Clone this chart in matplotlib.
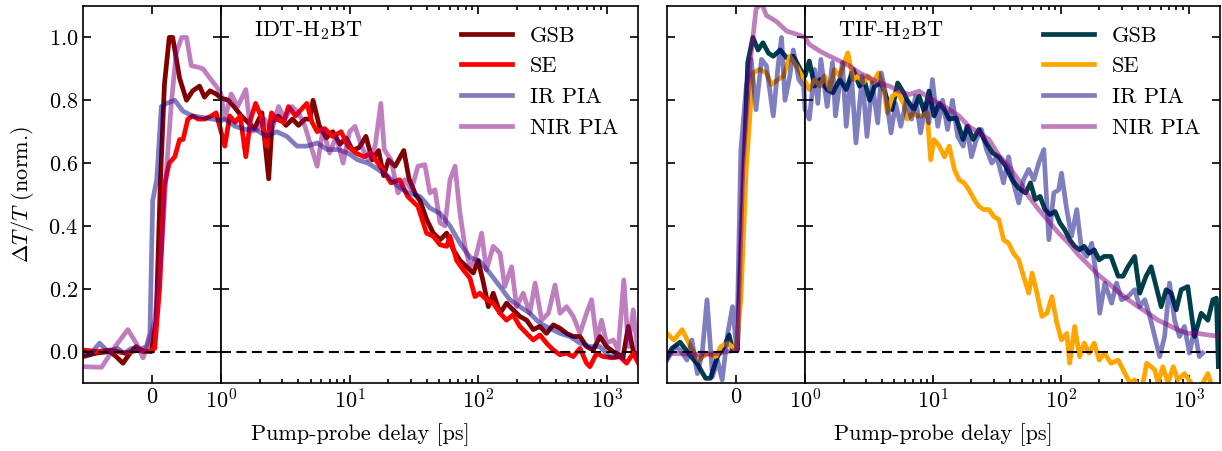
import numpy as np
import matplotlib
matplotlib.use('Agg')
import matplotlib.pyplot as plt

plt.rcParams['font.family'] = 'cmr10'
plt.rcParams['mathtext.fontset'] = 'cm'
plt.rcParams['axes.formatter.use_mathtext'] = True
plt.rcParams['font.size'] = 16
plt.rcParams['axes.linewidth'] = 1.2

#%% Transient traces (delay [ps], normalised dT/T)

# IDT-H2BT
idt_gsb = [(-1.0, -0.016), (-0.81, -0.005), (-0.61, 0.0), (-0.52, -0.016), (-0.42, -0.037),
           (-0.32, -0.005), (-0.23, 0.016), (-0.13, 0.0), (-0.01, 0.0), (0.06, 0.10), (0.12, 0.53),
           (0.18, 0.85), (0.25, 1.0), (0.30, 1.0), (0.40, 0.87), (0.50, 0.80), (0.59, 0.83),
           (0.69, 0.845), (0.76, 0.81), (0.84, 0.83), (0.93, 0.82), (1.0, 0.807), (1.14, 0.80),
           (1.29, 0.775), (1.44, 0.75), (1.62, 0.73), (1.82, 0.71), (2.08, 0.76), (2.35, 0.55),
           (2.5, 0.73), (2.8, 0.75), (3.2, 0.72), (3.6, 0.74), (4.0, 0.72), (4.5, 0.74), (4.9, 0.74),
           (5.2, 0.80), (5.8, 0.72), (6.6, 0.68), (7.4, 0.70), (8.4, 0.66), (9.4, 0.68), (10.6, 0.64),
           (11.9, 0.65), (13.4, 0.685), (15.0, 0.61), (16.8, 0.64), (18.4, 0.56), (20.1, 0.61),
           (22.6, 0.59), (26.4, 0.64), (29.0, 0.55), (32.6, 0.50), (35.3, 0.48), (39.8, 0.42),
           (44.8, 0.377), (50.5, 0.356), (56.9, 0.377), (64.1, 0.324), (72.2, 0.29), (81.3, 0.27),
           (91.6, 0.25), (100, 0.29), (110, 0.218), (120, 0.143), (131, 0.186), (148, 0.122),
           (166, 0.154), (187, 0.133), (211, 0.112), (238, 0.10), (268, 0.07), (302, 0.08),
           (340, 0.058), (384, 0.085), (433, 0.074), (487, 0.058), (549, 0.048), (619, 0.048),
           (697, 0.016), (785, 0.005), (885, 0.048), (997, 0.016), (1120, 0.0), (1340, -0.016),
           (1470, 0.08), (1610, 0.0), (1760, -0.02)]

idt_se = [(-1.0, 0.005), (-0.8, 0.0), (-0.6, 0.005), (-0.4, -0.005), (-0.2, 0.005), (-0.05, 0.0),
          (0.04, 0.01), (0.11, 0.2), (0.18, 0.53), (0.25, 0.6), (0.33, 0.62), (0.40, 0.675),
          (0.45, 0.675), (0.52, 0.74), (0.59, 0.75), (0.67, 0.74), (0.76, 0.74), (0.86, 0.75),
          (0.93, 0.76), (1.0, 0.70), (1.07, 0.654), (1.17, 0.75), (1.29, 0.73), (1.41, 0.75),
          (1.56, 0.62), (1.70, 0.74), (1.86, 0.79), (2.04, 0.75), (2.25, 0.654), (2.47, 0.76),
          (2.71, 0.74), (3.07, 0.73), (3.35, 0.78), (3.8, 0.75), (4.2, 0.77), (4.65, 0.79),
          (5.1, 0.73), (5.6, 0.70), (6.4, 0.71), (7.4, 0.685), (8.6, 0.70), (9.7, 0.654),
          (11.2, 0.632), (13.0, 0.62), (14.7, 0.632), (16.6, 0.60), (18.6, 0.57), (21.0, 0.537),
          (24.5, 0.547), (28.3, 0.494), (34.0, 0.462), (39.7, 0.377), (44.8, 0.367), (50.5, 0.34),
          (56.9, 0.335), (60.4, 0.367), (68, 0.29), (76.6, 0.26), (86.3, 0.234), (94.4, 0.175),
          (103, 0.186), (116, 0.165), (131, 0.154), (148, 0.122), (166, 0.10), (187, 0.117),
          (211, 0.08), (238, 0.058), (268, 0.037), (302, 0.053), (340, 0.027), (384, 0.005),
          (433, -0.01), (487, -0.005), (549, -0.016), (619, 0.01), (697, -0.037), (740, -0.048),
          (834, -0.005), (940, -0.016), (1120, -0.02), (1265, -0.016), (1426, -0.037),
          (1607, -0.005), (1760, -0.037)]

idt_ir = [(-1.0, 0.0), (-0.9, -0.01), (-0.76, 0.027), (-0.64, 0.0), (-0.5, 0.01), (-0.4, -0.005),
          (-0.3, 0.01), (-0.2, 0.005), (-0.08, 0.016), (-0.03, 0.06), (0.01, 0.48), (0.07, 0.55),
          (0.135, 0.78), (0.21, 0.79), (0.33, 0.80), (0.45, 0.765), (0.59, 0.75), (0.74, 0.745),
          (0.88, 0.74), (1.0, 0.735), (1.07, 0.74), (1.29, 0.717), (1.56, 0.707), (1.86, 0.707),
          (2.25, 0.685), (2.71, 0.70), (3.25, 0.685), (3.9, 0.654), (4.65, 0.654), (5.6, 0.664),
          (6.7, 0.643), (8.1, 0.643), (9.7, 0.632), (11.6, 0.61), (13.9, 0.60), (16.6, 0.58),
          (19.9, 0.558), (23.8, 0.526), (28.5, 0.505), (35.3, 0.494), (42.2, 0.457), (50.5, 0.44),
          (60.4, 0.40), (72.2, 0.345), (86.3, 0.30), (103, 0.287), (123, 0.25), (148, 0.207),
          (176, 0.165), (211, 0.143), (252, 0.122), (302, 0.09), (361, 0.074), (433, 0.058),
          (517, 0.048), (619, 0.027), (740, 0.016), (885, 0.016), (1058, -0.016), (1265, -0.016),
          (1343, -0.02)]

idt_nir = [(-1.0, -0.048), (-0.73, -0.05), (-0.57, 0.005), (-0.35, 0.07), (-0.23, 0.027),
           (-0.13, -0.02), (-0.03, 0.04), (0.04, 0.1), (0.135, 0.31), (0.21, 0.58), (0.28, 0.79),
           (0.35, 0.95), (0.43, 1.0), (0.5, 1.0), (0.57, 0.91), (0.67, 0.905), (0.74, 0.9),
           (0.84, 0.87), (0.93, 0.845), (1.0, 0.82), (1.07, 0.74), (1.2, 0.82), (1.35, 0.78),
           (1.56, 0.834), (1.70, 0.70), (1.92, 0.707), (2.18, 0.74), (2.47, 0.70), (2.8, 0.78),
           (3.15, 0.74), (3.55, 0.78), (4.0, 0.76), (4.5, 0.717), (5.1, 0.643), (5.6, 0.59),
           (6.2, 0.707), (7.0, 0.632), (7.9, 0.685), (8.9, 0.60), (10.0, 0.70), (11.0, 0.717),
           (12.4, 0.654), (14.0, 0.61), (15.8, 0.654), (17.5, 0.79), (18.6, 0.643), (21, 0.61),
           (23.8, 0.505), (26.8, 0.547), (30.3, 0.515), (34, 0.59), (38.5, 0.595), (42.2, 0.505),
           (46.1, 0.515), (50.5, 0.41), (55.2, 0.40), (60.4, 0.547), (66.1, 0.59), (72.2, 0.44),
           (78.9, 0.335), (86.3, 0.27), (94.4, 0.29), (106.4, 0.377), (116, 0.26), (131, 0.335),
           (148, 0.313), (161, 0.207), (182, 0.27), (199, 0.143), (224, 0.186), (252, 0.122),
           (277, 0.218), (312, 0.10), (352, 0.122), (396, 0.212), (433, 0.122), (487, 0.143),
           (549, 0.112), (619, 0.058), (697, 0.122), (762, 0.165), (834, 0.037), (912, 0.10),
           (997, 0.027), (1123, 0.037), (1227, 0.005), (1358, 0.228), (1469, 0.016), (1607, 0.133),
           (1760, -0.02)]

# TIF-H2BT
tif_gsb = [(-1.0, -0.02), (-0.93, 0.01), (-0.81, 0.03), (-0.69, -0.005), (-0.56, -0.04),
           (-0.44, -0.085), (-0.37, -0.085), (-0.27, -0.016), (-0.17, 0.016), (-0.10, 0.053),
           (-0.05, 0.005), (0.02, 0.005), (0.10, 0.48), (0.17, 0.92), (0.245, 1.0), (0.32, 0.96),
           (0.39, 0.983), (0.47, 0.95), (0.54, 0.94), (0.64, 0.96), (0.735, 0.935), (0.83, 0.94),
           (0.93, 0.90), (1.0, 0.877), (1.08, 0.925), (1.19, 0.845), (1.31, 0.866), (1.49, 0.834),
           (1.65, 0.824), (1.87, 0.866), (2.1, 0.834), (2.38, 0.898), (2.67, 0.845), (2.9, 0.866),
           (3.2, 0.80), (3.5, 0.845), (3.95, 0.855), (4.4, 0.80), (4.8, 0.77), (5.3, 0.855),
           (5.9, 0.824), (6.3, 0.80), (7.1, 0.77), (7.8, 0.813), (8.6, 0.76), (9.3, 0.829),
           (10.2, 0.75), (11.2, 0.79), (12.3, 0.77), (13.4, 0.74), (15.2, 0.744), (17.2, 0.675),
           (18.7, 0.717), (20.6, 0.675), (22.9, 0.707), (26, 0.664), (29.3, 0.632), (32.7, 0.62),
           (37, 0.59), (41.6, 0.547), (46.8, 0.52), (53, 0.505), (57.8, 0.537), (63, 0.484),
           (68.7, 0.494), (75, 0.452), (82, 0.436), (90, 0.446), (98, 0.41), (107, 0.388),
           (117, 0.356), (128, 0.335), (140, 0.324), (152, 0.335), (166, 0.313), (182, 0.324),
           (199, 0.292), (218, 0.303), (246, 0.303), (280, 0.24), (306, 0.24), (334, 0.27),
           (377, 0.303), (413, 0.186), (463, 0.24), (507, 0.27), (555, 0.207), (607, 0.143),
           (664, 0.197), (727, 0.186), (796, 0.133), (870, 0.197), (980, 0.207), (1106, 0.048),
           (1248, 0.122), (1407, 0.10), (1540, 0.165), (1640, 0.17), (1700, -0.048)]

tif_se = [(-1.0, 0.058), (-0.9, 0.037), (-0.78, 0.07), (-0.66, 0.016), (-0.54, -0.027),
          (-0.42, -0.005), (-0.29, -0.016), (-0.22, 0.016), (-0.12, 0.027), (0.0, 0.005),
          (0.07, 0.165), (0.15, 0.59), (0.245, 0.887), (0.34, 0.898), (0.44, 0.887), (0.51, 0.85),
          (0.61, 0.866), (0.69, 0.877), (0.78, 0.94), (0.88, 0.908), (0.98, 0.866), (1.08, 0.834),
          (1.19, 0.866), (1.31, 0.845), (1.42, 0.877), (1.56, 0.834), (1.70, 0.898), (1.87, 0.877),
          (2.04, 0.92), (2.16, 0.951), (2.38, 0.866), (2.6, 0.877), (2.86, 0.855), (3.1, 0.877),
          (3.4, 0.855), (3.75, 0.887), (4.1, 0.845), (4.4, 0.76), (4.8, 0.813), (5.3, 0.824),
          (5.9, 0.79), (6.3, 0.74), (7.0, 0.76), (7.5, 0.75), (8.2, 0.75), (9.0, 0.76), (9.6, 0.61),
          (10.2, 0.675), (11.2, 0.654), (12.3, 0.62), (13.4, 0.654), (14.7, 0.58), (16.0, 0.547),
          (17.5, 0.537), (19.1, 0.515), (21, 0.484), (22.9, 0.462), (25, 0.452), (27.4, 0.452),
          (29.9, 0.43), (32.7, 0.42), (35.6, 0.356), (39, 0.345), (42.6, 0.313), (46.8, 0.292),
          (51, 0.24), (56, 0.186), (59.5, 0.25), (65, 0.186), (71, 0.112), (77.8, 0.122),
          (85, 0.175), (93, 0.09), (101, 0.037), (111, 0.058), (117, -0.037), (128, 0.08),
          (140, -0.016), (152, 0.027), (166, -0.005), (182, 0.027), (199, -0.027), (218, -0.005),
          (246, -0.037), (280, -0.027), (317, -0.07), (347, -0.1), (377, -0.09), (424, -0.13),
          (468, -0.037), (541, -0.058), (573, -0.1), (626, -0.048), (687, -0.1), (755, -0.048),
          (820, -0.09), (923, -0.07), (1040, -0.1), (1174, -0.13), (1407, -0.07), (1590, -0.14)]

tif_ir = [(-1.0, -0.027), (-0.88, 0.016), (-0.81, 0.005), (-0.71, -0.027), (-0.64, 0.037),
          (-0.56, -0.07), (-0.49, -0.005), (-0.42, 0.165), (-0.34, -0.08), (-0.27, -0.027),
          (-0.2, -0.09), (-0.12, 0.058), (-0.05, 0.143), (0.01, 0.005), (0.07, 0.64), (0.15, 0.845),
          (0.22, 0.93), (0.29, 0.77), (0.37, 0.93), (0.44, 0.91), (0.54, 0.75), (0.61, 0.91),
          (0.66, 1.0), (0.71, 0.80), (0.78, 0.877), (0.83, 0.96), (0.91, 0.866), (0.98, 0.845),
          (1.0, 0.77), (1.08, 0.74), (1.19, 0.898), (1.26, 0.79), (1.33, 0.93), (1.49, 0.78),
          (1.64, 0.92), (1.73, 0.75), (1.96, 0.92), (2.1, 0.717), (2.3, 0.887), (2.5, 0.664),
          (2.8, 0.877), (3.05, 0.685), (3.35, 0.855), (3.7, 0.728), (3.95, 0.887), (4.3, 0.813),
          (4.7, 0.696), (5.1, 0.79), (5.6, 0.717), (6.2, 0.80), (6.8, 0.74), (7.3, 0.813),
          (8.0, 0.696), (8.8, 0.79), (9.3, 0.728), (9.9, 0.866), (10.9, 0.717), (11.9, 0.80),
          (13.0, 0.707), (14.2, 0.80), (15.6, 0.685), (17.2, 0.654), (18.3, 0.717), (20, 0.62),
          (21.8, 0.675), (23.9, 0.707), (26.2, 0.643), (28.8, 0.60), (31.6, 0.62), (33.5, 0.58),
          (35.6, 0.537), (39, 0.62), (42.6, 0.537), (46.8, 0.473), (51, 0.547), (56, 0.58),
          (61.5, 0.547), (67, 0.60), (73.5, 0.643), (80.5, 0.356), (88, 0.505), (96, 0.515),
          (101, 0.568), (111, 0.452), (121, 0.367), (133, 0.452), (145, 0.324), (159, 0.303),
          (174, 0.345), (191, 0.228), (201, 0.122), (220, 0.218), (249, 0.154), (272, 0.218),
          (298, 0.165), (334, 0.175), (377, 0.197), (413, 0.143), (452, 0.165), (495, 0.112),
          (541, 0.048), (591, -0.016), (646, 0.048), (706, 0.218), (773, 0.10), (845, 0.048),
          (923, 0.08), (1010, -0.005), (1104, 0.069), (1207, -0.016), (1280, -0.005)]

tif_nir = [(-1.0, -0.005), (-0.5, -0.01), (-0.25, -0.005), (0.0, 0.005), (0.02, 0.005),
           (0.10, 0.59), (0.2, 0.91), (0.29, 1.09), (0.37, 1.11), (0.44, 1.07), (0.59, 1.05),
           (0.735, 1.02), (0.88, 1.01), (1.0, 1.0), (1.08, 0.978), (1.31, 0.956), (1.56, 0.94),
           (1.87, 0.925), (2.23, 0.909), (2.67, 0.887), (3.2, 0.871), (3.83, 0.855), (4.57, 0.845),
           (5.47, 0.829), (6.5, 0.818), (7.8, 0.829), (9.3, 0.808), (11.2, 0.79), (13.4, 0.77),
           (16, 0.75), (19.1, 0.717), (22.9, 0.696), (27.4, 0.675), (32.7, 0.625), (39, 0.59),
           (46.8, 0.545), (56, 0.494), (67, 0.452), (80.5, 0.414), (96, 0.377), (115, 0.345),
           (137, 0.308), (164, 0.276), (196, 0.244), (235, 0.218), (280, 0.19), (336, 0.165),
           (401, 0.143), (480, 0.122), (573, 0.10), (686, 0.085), (820, 0.069), (981, 0.058),
           (1174, 0.058), (1405, 0.053), (1750, 0.048)]

labels = ['GSB', 'SE', 'IR PIA', 'NIR PIA']
idt_colors = ['#800000', '#ff0000', 'navy', 'purple']
tif_colors = ['#003f4a', '#ffa500', 'navy', 'purple']
alphas = [1.0, 1.0, 0.5, 0.5]

W, H = 1222, 451
fig = plt.figure(figsize=(W/100, H/100), dpi=100)


def rect(x0, x1, y0=6, y1=383):
    # pixel box -> figure fraction
    return [x0/W, 1 - y1/H, (x1 - x0)/W, (y1 - y0)/H]


def draw_panel(xlin, xsplit, xend, traces, colors, name, ylabels):
    # linear part for t < 1 ps, log part after
    ax_lin = fig.add_axes(rect(xlin, xsplit))
    ax_log = fig.add_axes(rect(xsplit, xend))
    ax_log.set_xscale('log', nonpositive='mask')

    for tr, c, a, lab in zip(traces, colors, alphas, labels):
        t, y = np.array(tr).T
        for ax in (ax_lin, ax_log):
            ax.plot(t, y, color=c, alpha=a, lw=3.4, label=lab)

    for ax in (ax_lin, ax_log):
        ax.axhline(0, color='k', ls=(0, (4.8, 2.6)), lw=1.5, zorder=3)
        ax.set_ylim(-0.1, 1.1)
        ax.set_yticks([0.0, 0.2, 0.4, 0.6, 0.8, 1.0])
        ax.tick_params(which='both', direction='in', top=True, right=True, width=1.2)
        ax.tick_params(which='major', length=6)
        ax.tick_params(which='minor', length=3)

    ax_lin.set_xlim(-1, 1)
    ax_lin.set_xticks([0])
    ax_lin.tick_params(labelleft=ylabels)
    ax_log.set_xlim(1, 1750)
    ax_log.tick_params(labelleft=False)

    ax_log.text(0.08, 0.935, name, transform=ax_log.transAxes, ha='left', va='center')
    ax_log.legend(loc='upper right', frameon=False, handlelength=2.3)
    fig.text((xlin + xend)/2/W, 1 - 435/H, 'Pump-probe delay [ps]', ha='center', va='center')


draw_panel(83, 221, 638, [idt_gsb, idt_se, idt_ir, idt_nir], idt_colors, 'IDT-H$_2$BT', True)
draw_panel(667, 805, 1220, [tif_gsb, tif_se, tif_ir, tif_nir], tif_colors, 'TIF-H$_2$BT', False)

fig.text(22/W, 1 - 195/H, r'$\Delta T/T$ (norm.)', rotation=90, ha='center', va='center')

fig.savefig('out.png', dpi=100)
